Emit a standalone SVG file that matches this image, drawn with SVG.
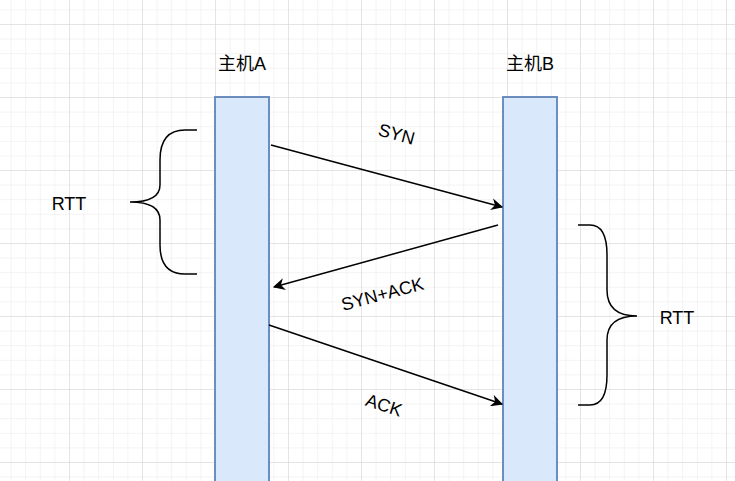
<svg xmlns="http://www.w3.org/2000/svg" width="735" height="481" viewBox="0 0 735 481">
<defs>
<pattern id="minor" x="-4" y="24" width="14.6" height="14.6" patternUnits="userSpaceOnUse"><path d="M0 0H14.6M0 0V14.6" fill="none" stroke="#e8e8e8" stroke-width="1"/></pattern>
<pattern id="major" x="-4" y="24" width="73" height="73" patternUnits="userSpaceOnUse"><path d="M0 0H73M0 0V73" fill="none" stroke="#d6d6d6" stroke-width="1"/></pattern>
<marker id="ah" viewBox="0 0 10 10" refX="9" refY="5" markerWidth="12" markerHeight="12" markerUnits="userSpaceOnUse" orient="auto"><path d="M0 0L10 5L0 10L3 5Z" fill="#000"/></marker>
</defs>
<style>
.host{fill:#dae8fc;stroke:#6c8ebf;stroke-width:2}
.t{font-family:"Liberation Sans","Noto Sans CJK SC",sans-serif;font-size:18px;fill:#000}
.c{stroke:#000;stroke-width:1.5;fill:none}
</style>
<rect width="735" height="481" fill="#fff"/>
<rect width="735" height="481" fill="url(#minor)"/>
<rect width="735" height="481" fill="url(#major)"/>
<g id="hostA"><rect class="host" x="215" y="97" width="54" height="390"/><text class="t" x="242" y="70" text-anchor="middle">主机A</text></g>
<g id="hostB"><rect class="host" x="503" y="97" width="54" height="390"/><text class="t" x="530" y="70" text-anchor="middle">主机B</text></g>
<g id="rttLeft"><path class="c" d="M197 130H185Q160 130 160 160V185Q160 202 130 202Q160 202 160 220V245Q160 274 185 274H197"/><text class="t" x="69" y="210" text-anchor="middle">RTT</text></g>
<g id="rttRight"><path class="c" d="M578 225H590Q607 225 607 255V290Q607 316 637 316Q607 316 607 340V375Q607 405 590 405H578"/><text class="t" x="677" y="324" text-anchor="middle">RTT</text></g>
<g id="connectors">
<line class="c" x1="271" y1="145" x2="502" y2="207" marker-end="url(#ah)"/>
<line class="c" x1="498" y1="225" x2="274" y2="287" marker-end="url(#ah)"/>
<line class="c" x1="269" y1="325" x2="502" y2="404" marker-end="url(#ah)"/>
<text class="t" transform="translate(395 140) rotate(15)" text-anchor="middle">SYN</text>
<text class="t" transform="translate(384 300) rotate(-15)" text-anchor="middle">SYN+ACK</text>
<text class="t" transform="translate(382 411) rotate(18)" text-anchor="middle">ACK</text>
</g>
</svg>
